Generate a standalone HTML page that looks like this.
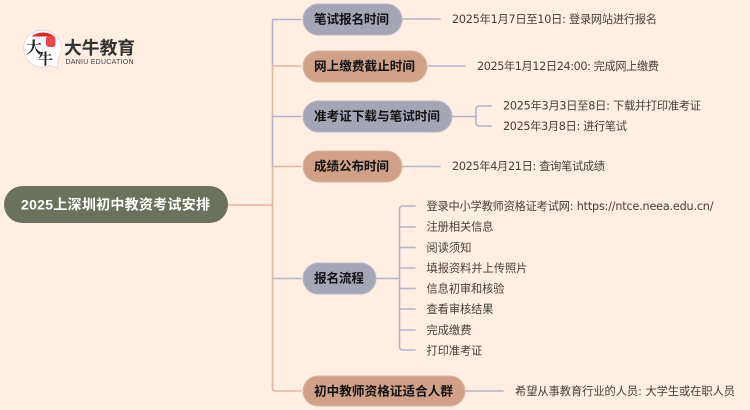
<!DOCTYPE html>
<html lang="zh">
<head>
<meta charset="utf-8">
<title>2025上深圳初中教资考试安排</title>
<style>
html,body{margin:0;padding:0;background:#ffeee1;}
svg{display:block;filter:blur(0.3px);}
.t{font-family:"DejaVu Sans","Noto Sans CJK SC",sans-serif;font-size:11.2px;fill:#454039;}
.n{font-family:"Liberation Sans","Noto Sans CJK SC",sans-serif;font-size:12.6px;font-weight:700;fill:#111;}
.r{font-family:"Liberation Sans","Noto Sans CJK SC",sans-serif;font-size:14px;font-weight:700;fill:#fff;}
</style>
</head>
<body>
<svg width="750" height="410" viewBox="0 0 750 410" xmlns="http://www.w3.org/2000/svg">
<rect width="750" height="410" fill="#ffeee1"/>

<!-- logo -->
<path d="M43 30a18.500 18.500 0 0 1 16 27.500l-1 2 -1 9 -6.500-3.500a18.500 18.500 0 1 1-7.500-35z" fill="#fff" stroke="#d8d4d0" stroke-width="0.7"/>
<path d="M31.500 36.500a18.500 18.500 0 0 1 23 0z" fill="#e3262a"/>
<rect x="46" y="36" width="9.500" height="11" rx="3" fill="#e8494d"/>
<text x="26" y="53" font-family="'Noto Serif CJK SC',serif" font-size="16" font-weight="700" fill="#222">大</text>
<text x="38" y="64" font-family="'Noto Serif CJK SC',serif" font-size="15" font-weight="700" fill="#222">牛</text>
<text x="64" y="54" font-family="'Noto Sans CJK SC',sans-serif" font-size="17.800" font-weight="700" fill="#333">大牛教育</text>
<text x="65.500" y="64" font-family="'Liberation Sans',sans-serif" font-size="7" fill="#444" textLength="68">DANIU EDUCATION</text>

<!-- trunk -->
<g fill="none" stroke-width="1.600" stroke-linecap="round">
<path d="M276 19.500H275a2.500 2.500 0 0 0-2.500 2.500V66" stroke="#b3b3c8"/>
<path d="M272.500 66V116" stroke="#e3b59d"/>
<path d="M272.500 116V166" stroke="#b3b3c8"/>
<path d="M272.500 166V388.500a2.500 2.500 0 0 0 2.500 2.500H301" stroke="#e3b59d"/>
<path d="M228 205H272.500" stroke="#e3b59d"/>
<path d="M272.500 19.500H301" stroke="#b3b3c8"/>
<path d="M272.500 66H301" stroke="#e3b59d"/>
<path d="M272.500 116.500H301" stroke="#b3b3c8"/>
<path d="M272.500 166.500H301" stroke="#e3b59d"/>
<path d="M272.500 278.500H301" stroke="#b3b3c8"/>
</g>

<!-- child connectors -->
<g fill="none" stroke="#b3b3c8" stroke-width="1.600" stroke-linecap="round">
<path d="M403 19H440"/>
<path d="M428 66H465"/>
<path d="M453 116.500H476"/>
<path d="M491 106H479a3 3 0 0 0-3 3V123a3 3 0 0 0 3 3H491"/>
<path d="M403 166.500H440"/>
<path d="M377 278.500H399.500"/>
<path d="M415 206H402.500a3 3 0 0 0-3 3V347a3 3 0 0 0 3 3H415"/>
<path d="M399.500 227H415M399.500 247.500H415M399.500 268H415M399.500 288.500H415M399.500 309H415M399.500 330H415"/>
<path d="M466 391H503"/>
</g>

<!-- root -->
<rect x="4" y="186" width="224" height="37" rx="18.500" fill="#6b725b"/>
<text class="r" x="21" y="209.500" textLength="189">2025上深圳初中教资考试安排</text>

<!-- branches -->
<g stroke-width="1">
<rect x="303" y="4" width="99" height="31" rx="15.500" fill="#a5a5b8" stroke="#b8b8ca"/>
<rect x="303" y="51" width="124" height="31" rx="15.500" fill="#d0a087" stroke="#ddb7a0"/>
<rect x="303" y="101" width="149" height="31" rx="15.500" fill="#a5a5b8" stroke="#b8b8ca"/>
<rect x="303" y="151" width="99" height="31" rx="15.500" fill="#d0a087" stroke="#ddb7a0"/>
<rect x="303" y="263" width="73" height="31" rx="15.500" fill="#a5a5b8" stroke="#b8b8ca"/>
<rect x="303" y="376" width="162" height="30" rx="15" fill="#d0a087" stroke="#ddb7a0"/>
</g>
<text class="n" x="314" y="23.500" textLength="75">笔试报名时间</text>
<text class="n" x="314" y="70.500" textLength="101">网上缴费截止时间</text>
<text class="n" x="314" y="120.500" textLength="126">准考证下载与笔试时间</text>
<text class="n" x="314" y="170.500" textLength="75">成绩公布时间</text>
<text class="n" x="314" y="282.500" textLength="50">报名流程</text>
<text class="n" x="314" y="395.500" textLength="139">初中教师资格证适合人群</text>

<!-- leaves -->
<text class="t" x="452" y="23" textLength="205">2025年1月7日至10日: 登录网站进行报名</text>
<text class="t" x="477" y="70" textLength="182">2025年1月12日24:00: 完成网上缴费</text>
<text class="t" x="503" y="109.500" textLength="198">2025年3月3日至8日: 下载并打印准考证</text>
<text class="t" x="503" y="130" textLength="124">2025年3月8日: 进行笔试</text>
<text class="t" x="452" y="170" textLength="153">2025年4月21日: 查询笔试成绩</text>
<text class="t" x="426.500" y="210" textLength="287">登录中小学教师资格证考试网: https://ntce.neea.edu.cn/</text>
<text class="t" x="426.500" y="230.500" textLength="67">注册相关信息</text>
<text class="t" x="426.500" y="251.500" textLength="45">阅读须知</text>
<text class="t" x="426.500" y="272" textLength="101">填报资料并上传照片</text>
<text class="t" x="426.500" y="292.500" textLength="78">信息初审和核验</text>
<text class="t" x="426.500" y="313" textLength="67">查看审核结果</text>
<text class="t" x="426.500" y="334" textLength="45">完成缴费</text>
<text class="t" x="426.500" y="354.500" textLength="56">打印准考证</text>
<text class="t" x="515" y="395" textLength="220">希望从事教育行业的人员: 大学生或在职人员</text>
</svg>
</body>
</html>
